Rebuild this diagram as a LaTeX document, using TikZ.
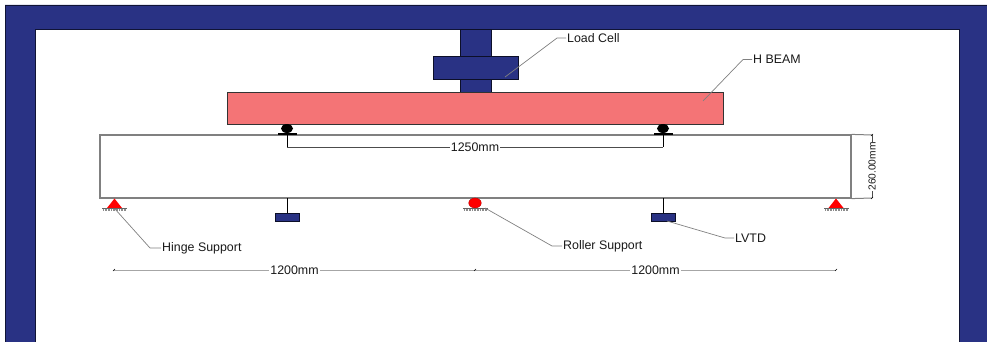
\documentclass[tikz,border=0pt]{standalone}
\usepackage{fontspec}
\setmainfont{Liberation Sans}
\definecolor{framecolor}{RGB}{41,50,132}
\definecolor{beamcolor}{RGB}{244,116,118}
\begin{document}
\begin{tikzpicture}[x=1pt,y=-1pt]
            \tikzstyle{block} = [draw=black!70!framecolor,fill=framecolor,line width=0.6pt,inner sep=0pt]
            \tikzstyle{hbeam} = [draw=black!80,fill=beamcolor,line width=0.8pt,inner sep=0pt,minimum width=496pt,minimum height=32pt]
            \tikzstyle{rcbeam} = [draw=black!50,line width=1.2pt,inner sep=0pt,minimum width=751pt,minimum height=63pt]
            \tikzstyle{ground} = [draw=black!60,line width=0.5pt]
            \tikzstyle{hatch} = [draw=black!45,line width=1.2pt,dash pattern=on 0.8pt off 0.8pt]
            \tikzstyle{leader} = [draw=black!50,line width=0.7pt]
            \tikzstyle{dimline} = [draw=black!35,line width=1pt]
            \tikzstyle{tick} = [draw=black,line width=0.5pt]
            \tikzstyle{label} = [font=\fontsize{12.4}{14}\selectfont,text=black!90,inner sep=1pt,anchor=west]
            \tikzstyle{dimlabel} = [font=\fontsize{12.4}{14}\selectfont,text=black!90,fill=white,inner sep=1pt]
            \tikzstyle{vertlabel} = [font=\fontsize{10.2}{12}\selectfont,text=black!90,fill=white,inner sep=0.5pt,rotate=90]
            \useasboundingbox (0,0) rectangle (987,342);

            % frame
            \fill[color=framecolor,draw=black!60!framecolor,line width=0.6pt,even odd rule] (5,5) rectangle (988,343) (35,29) rectangle (959,343);

            % load cell and beams
            \node[rcbeam] (rcbeam) at (475.5,166.5) {};
            \node[block,minimum width=31pt,minimum height=63pt] (column) at (475.5,60.5) {};
            \node[block,minimum width=85pt,minimum height=23pt] (loadcell) at (475.5,67.5) {};
            \node[hbeam] (hbeam) at (475,108) {};

            % loading points
            \fill[color=black] (287,128.5) ellipse (6 and 4.5);
            \fill[color=black] (663,128.5) ellipse (6 and 4.5);
            \draw[color=black,line width=1.3pt] (278,134) -- (297,134);
            \draw[color=black,line width=1.3pt] (654,134) -- (673,134);

            % LVTD
            \node[block,minimum width=24pt,minimum height=8pt] (lvtdleft) at (287,217) {};
            \node[block,minimum width=24pt,minimum height=8pt] (lvtdright) at (663,217) {};
            \coordinate (stemleft) at (287,198);
            \coordinate (stemright) at (663,198);
            \draw[color=black,line width=0.7pt] (stemleft) -- (lvtdleft.north);
            \draw[color=black,line width=0.7pt] (stemright) -- (lvtdright.north);

            % supports
            \fill[color=red] (114.5,198.5) -- (122,208) -- (107,208) -- cycle;
            \fill[color=red] (836,198.5) -- (843.5,208) -- (828.5,208) -- cycle;
            \fill[color=red,draw=red!70!black,line width=0.3pt] (475,203) ellipse (6.3 and 5);
            \draw[ground] (102,208.5) -- (127,208.5);
            \draw[ground] (463,208.5) -- (488,208.5);
            \draw[ground] (824,208.5) -- (849,208.5);
            \draw[hatch] (103,210) -- (126,210);
            \draw[hatch] (464,210) -- (487,210);
            \draw[hatch] (825,210) -- (848,210);

            % labels
            \node[label] (hingelabel) at (161,248) {Hinge Support};
            \node[label] (rollerlabel) at (562,246) {Roller Support};
            \node[label] (lvtdlabel) at (734,238) {LVTD};
            \node[label] (celllabel) at (566,38) {Load Cell};
            \node[label] (beamlabel) at (752,59.5) {H BEAM};

            \coordinate (hingepoint) at (115,209);
            \coordinate (rollerpoint) at (485,208);
            \coordinate (lvtdpoint) at (667,221);
            \coordinate (cellpoint) at (505,77);
            \coordinate (beampoint) at (703,101);
            \draw[leader] (hingepoint) -- (150,248) -- (hingelabel.west);
            \draw[leader] (rollerpoint) -- (552,246) -- (rollerlabel.west);
            \draw[leader] (lvtdpoint) -- (725,238) -- (lvtdlabel.west);
            \draw[leader] (cellpoint) -- (557,38) -- (celllabel.west);
            \draw[leader] (beampoint) -- (743,59.5) -- (beamlabel.west);

            % dimensions
            \coordinate (dimA) at (287,147);
            \coordinate (dimB) at (663,147);
            \coordinate (dimC) at (114,270);
            \coordinate (dimD) at (475,270);
            \coordinate (dimE) at (836,270);
            \coordinate (dimF) at (872,135);
            \coordinate (dimG) at (872,198);
            \draw[dimline,draw=black!70,line width=0.7pt] (dimA) -- node[dimlabel] {1250mm} (dimB);
            \draw[dimline] (dimC) -- node[dimlabel] {1200mm} (dimD);
            \draw[dimline] (dimD) -- node[dimlabel] {1200mm} (dimE);
            \draw[dimline,draw=black!70,line width=0.7pt] (dimF) -- node[vertlabel] {260.00mm} (dimG);
            \draw[dimline,draw=black!50] (rcbeam.north east) -- (dimF);
            \draw[dimline,draw=black!50] (rcbeam.south east) -- (dimG);
            \draw[color=black,line width=0.7pt] (287,135) -- (dimA);
            \draw[color=black,line width=0.7pt] (663,135) -- (dimB);
            \draw[tick] (113,271) -- (115,269);
            \draw[tick] (474,271) -- (476,269);
            \draw[tick] (835,271) -- (837,269);
            \draw[tick] (871,136) -- (873,134);
            \draw[tick] (871,199) -- (873,197);
\end{tikzpicture}
\end{document}
